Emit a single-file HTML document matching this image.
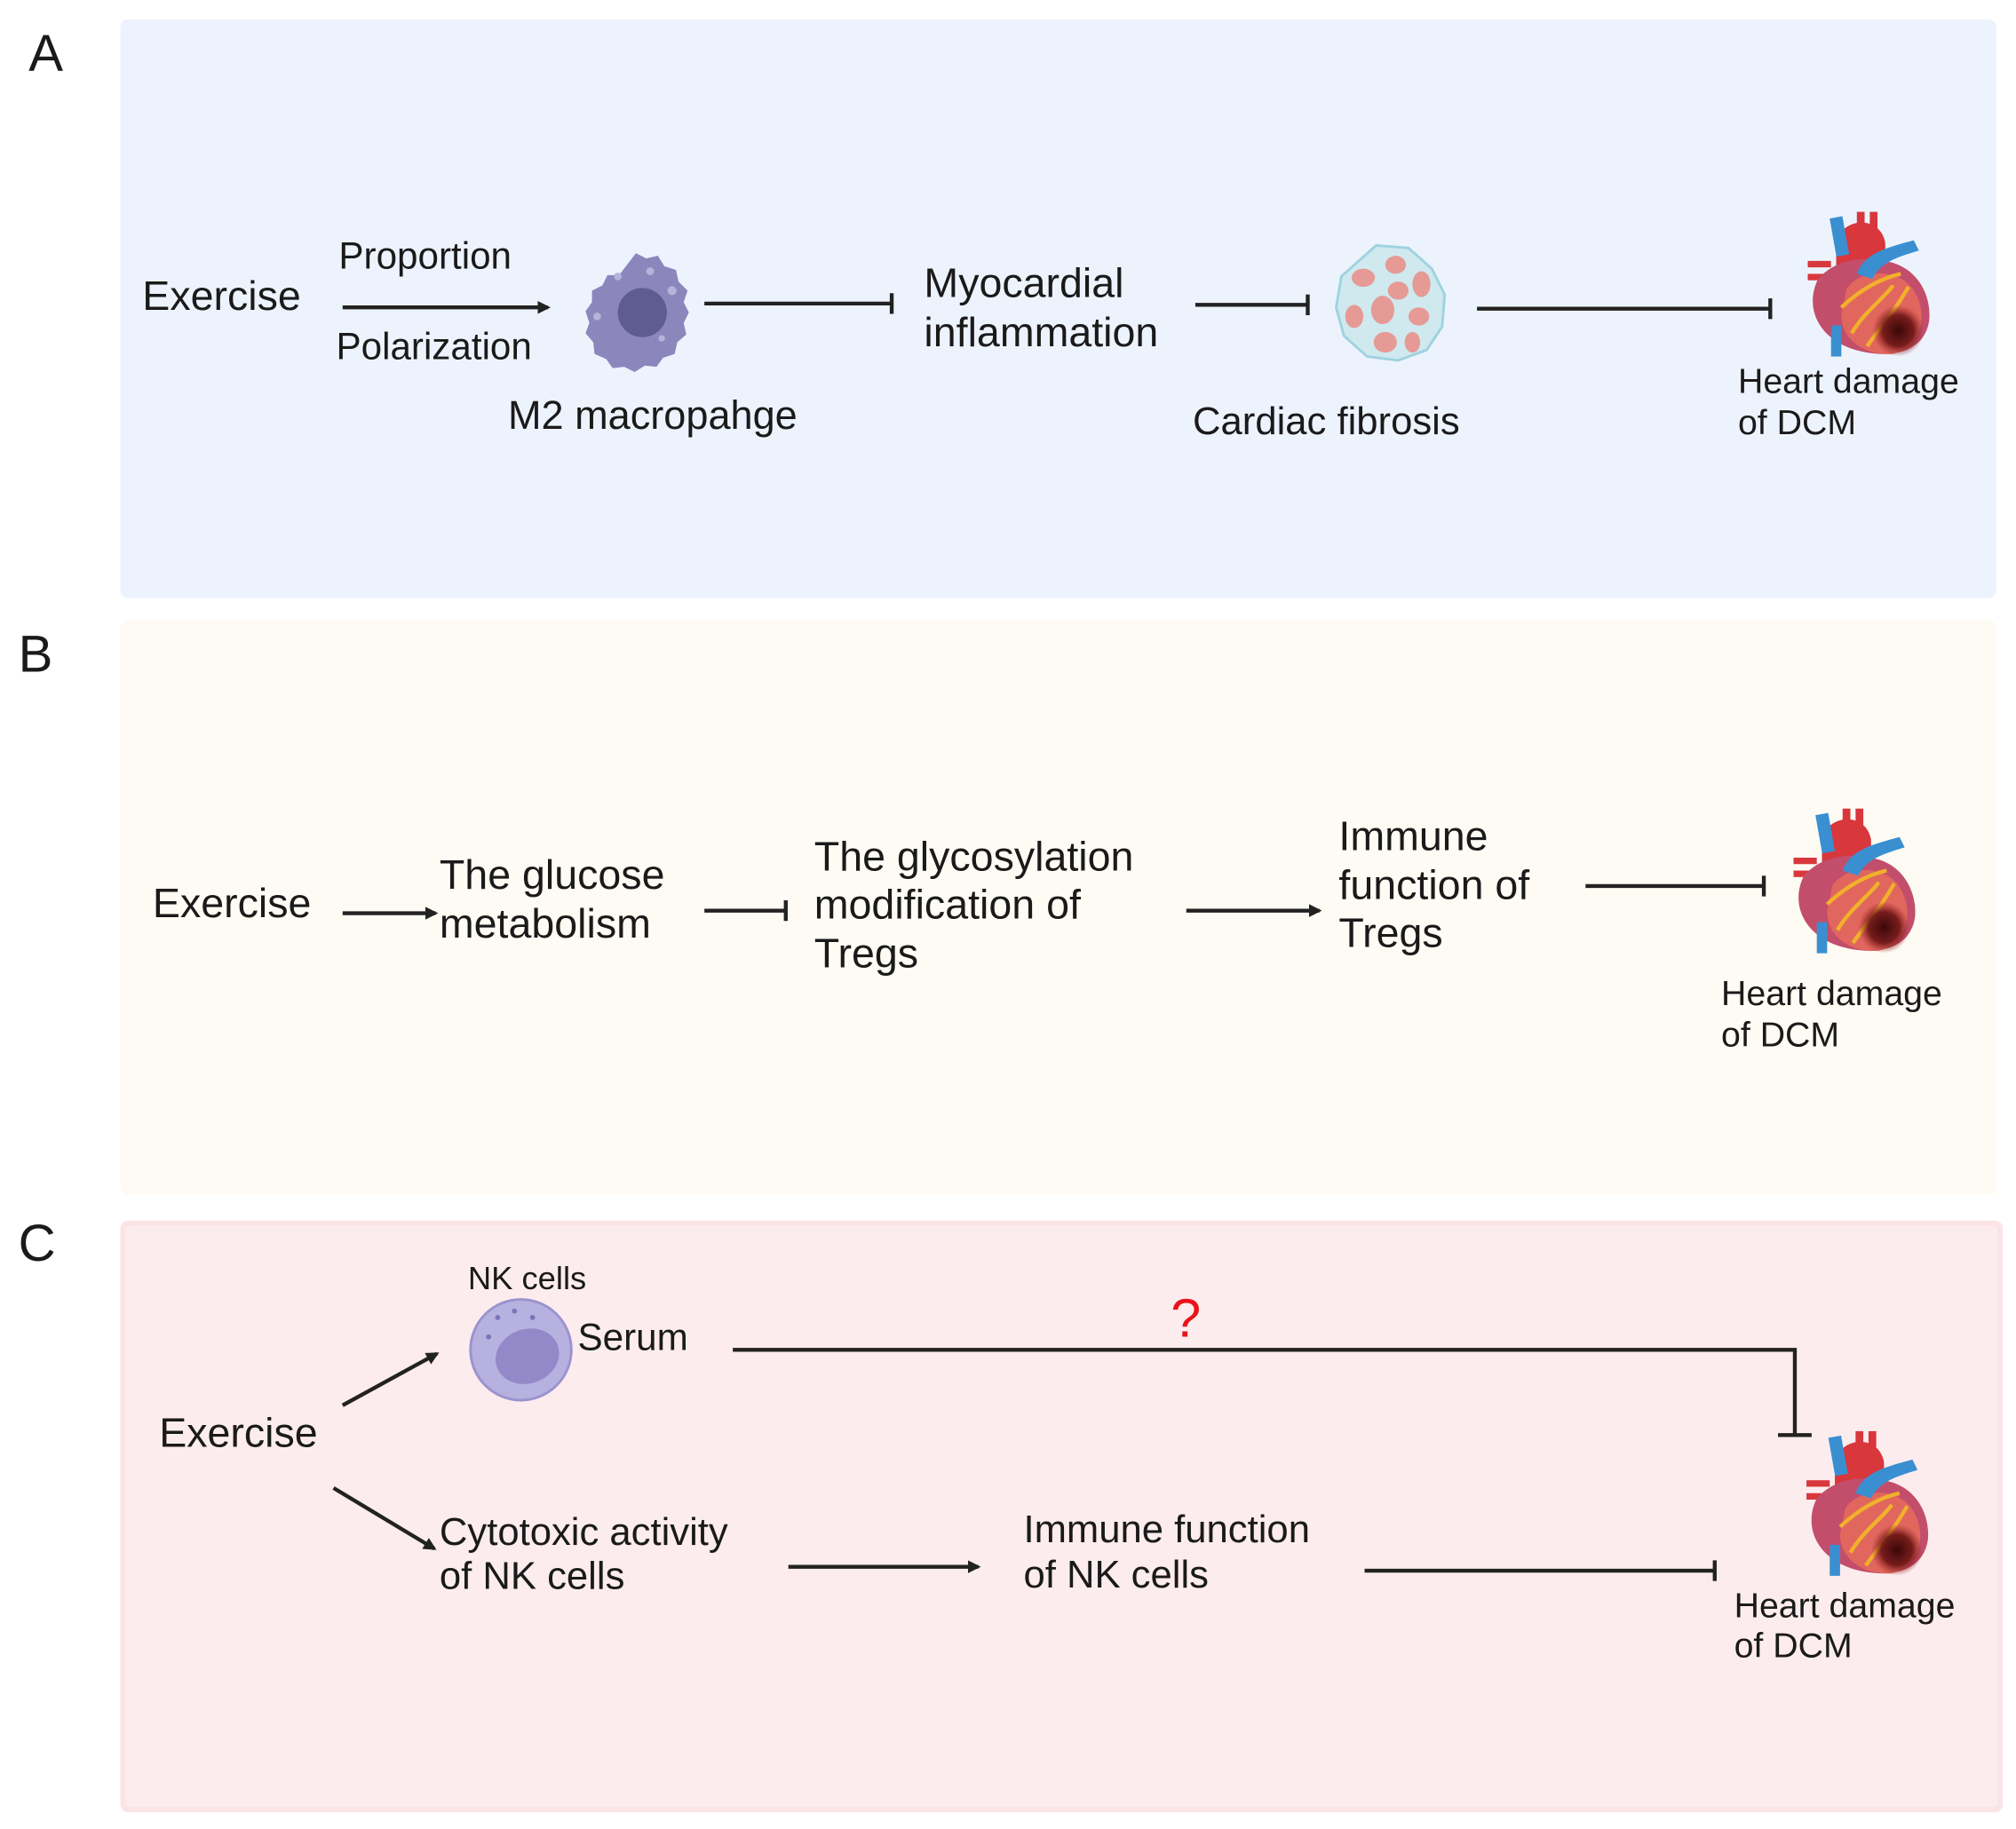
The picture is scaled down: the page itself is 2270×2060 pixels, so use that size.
<!DOCTYPE html>
<html><head><meta charset="utf-8"><style>
html,body{margin:0;padding:0;background:#fff}
svg{display:block}
text{font-family:"Liberation Sans",sans-serif;fill:#1a1a1a}
</style></head><body>
<svg width="2270" height="2060" viewBox="0 0 1560 1416" xmlns="http://www.w3.org/2000/svg">
<defs>
<marker id="ar" markerWidth="10" markerHeight="10" refX="8" refY="5" orient="auto" markerUnits="userSpaceOnUse">
<path d="M0,0 L10,5 L0,10 Z" fill="#222"/></marker>
<radialGradient id="dk" cx="0.5" cy="0.5" r="0.5"><stop offset="0" stop-color="#3a0808"/><stop offset="0.6" stop-color="#6a1414" stop-opacity="0.9"/><stop offset="1" stop-color="#a02828" stop-opacity="0"/></radialGradient>
<g id="heart">
<path d="M-22,-38 C-18,-58 12,-60 16,-38 L16,-18 L-22,-18 Z" fill="#d8373c"/>
<rect x="-6" y="-62" width="6" height="26" fill="#d8373c"/>
<rect x="4" y="-62" width="6" height="28" fill="#d8373c"/>
<rect x="-44" y="-24" width="18" height="5" fill="#d8373c"/>
<rect x="-44" y="-14" width="18" height="5" fill="#d8373c"/>
<path d="M-36,-10 C-46,10 -38,34 -10,44 C14,52 46,50 50,22 C52,0 38,-22 14,-24 C-4,-28 -24,-24 -36,-10 Z" fill="#c24e6b"/>
<path d="M-14,-2 C-6,-16 22,-20 36,-4 C50,14 46,42 22,48 C2,50 -18,38 -18,18 Z" fill="#e1675e"/>
<path d="M-18,12 C-5,0 10,-10 28,-14 M-10,32 C0,15 15,5 22,-5 M2,42 C10,30 20,20 34,-4" stroke="#f1b12a" stroke-width="3" fill="none"/>
<circle cx="26" cy="30" r="20" fill="url(#dk)"/>
<rect x="-24" y="-58" width="10" height="30" fill="#3a8fd1" transform="rotate(-10 -19 -40)"/>
<rect x="-26" y="26" width="8" height="24" fill="#3a8fd1"/>
<path d="M-6,-14 C0,-30 16,-34 38,-40 L42,-32 C22,-26 12,-22 6,-10 Z" fill="#3a8fd1"/>
</g>
</defs>

<rect x="93" y="15" width="1452" height="448" rx="6" fill="#edf3fc"/>
<rect x="93" y="480" width="1452" height="445" rx="6" fill="#fdfbf3"/>
<rect x="93" y="945" width="1457" height="458" rx="6" fill="#fbe4e8"/>
<rect x="97" y="949" width="1449" height="450" rx="4" fill="#fdecee"/>

<text x="22" y="55" font-size="40">A</text>
<text x="14" y="520" font-size="40">B</text>
<text x="14" y="976" font-size="40">C</text>

<text x="110" y="240" font-size="32">Exercise</text>
<text x="262" y="208" font-size="29">Proportion</text>
<text x="260" y="278" font-size="29">Polarization</text>
<line x1="265" y1="238" x2="424" y2="238" stroke="#222" stroke-width="3" marker-end="url(#ar)"/>
<path d="M492,196 l8,4 9,-2 5,8 9,3 2,9 7,7 -3,9 4,8 -4,8 2,9 -7,6 -2,9 -9,3 -5,7 -9,-1 -8,5 -8,-4 -9,1 -5,-7 -9,-4 -1,-9 -6,-7 3,-8 -3,-9 5,-7 0,-9 8,-4 4,-8 9,0 Z" fill="#8b87bd"/>
<circle cx="497" cy="242" r="19" fill="#5f5c91"/>
<circle cx="503" cy="210" r="3" fill="#b5b3d8"/><circle cx="478" cy="214" r="3" fill="#b5b3d8"/><circle cx="520" cy="225" r="3.5" fill="#b5b3d8"/><circle cx="462" cy="245" r="3" fill="#b5b3d8"/><circle cx="512" cy="262" r="2.5" fill="#b5b3d8"/>
<text x="393" y="332" font-size="31">M2 macropahge</text>
<line x1="545" y1="235" x2="690" y2="235" stroke="#222" stroke-width="3"/>
<line x1="690" y1="227" x2="690" y2="243" stroke="#222" stroke-width="3"/>
<text x="715" y="230" font-size="32">Myocardial</text>
<text x="715" y="268" font-size="32">inflammation</text>
<line x1="925" y1="236" x2="1012" y2="236" stroke="#222" stroke-width="3"/>
<line x1="1012" y1="228" x2="1012" y2="244" stroke="#222" stroke-width="3"/>
<path d="M1065,190 l25,2 18,16 10,20 -2,25 -12,18 -22,8 -24,-3 -18,-16 -6,-22 4,-24 Z" fill="#cfe9ef" stroke="#9ed3e0" stroke-width="2"/>
<g fill="#e69a96"><ellipse cx="1055" cy="215" rx="9" ry="7"/><ellipse cx="1080" cy="205" rx="8" ry="7"/><ellipse cx="1100" cy="220" rx="7" ry="10"/><ellipse cx="1070" cy="240" rx="9" ry="11"/><ellipse cx="1048" cy="245" rx="7" ry="9"/><ellipse cx="1098" cy="245" rx="8" ry="7"/><ellipse cx="1072" cy="265" rx="9" ry="8"/><ellipse cx="1093" cy="265" rx="6" ry="8"/><ellipse cx="1082" cy="225" rx="8" ry="7"/></g>
<text x="923" y="336" font-size="30">Cardiac fibrosis</text>
<line x1="1143" y1="239" x2="1370" y2="239" stroke="#222" stroke-width="3"/>
<line x1="1370" y1="231" x2="1370" y2="247" stroke="#222" stroke-width="3"/>
<use href="#heart" transform="translate(1443,226)"/>
<text x="1345" y="304" font-size="27">Heart damage</text>
<text x="1345" y="336" font-size="27">of DCM</text>

<text x="118" y="710" font-size="32">Exercise</text>
<line x1="265" y1="707" x2="337" y2="707" stroke="#222" stroke-width="3" marker-end="url(#ar)"/>
<text x="340" y="688" font-size="32">The glucose</text>
<text x="340" y="726" font-size="32">metabolism</text>
<line x1="545" y1="705" x2="608" y2="705" stroke="#222" stroke-width="3"/>
<line x1="608" y1="697" x2="608" y2="713" stroke="#222" stroke-width="3"/>
<text x="630" y="674" font-size="32">The glycosylation</text>
<text x="630" y="711" font-size="32">modification of</text>
<text x="630" y="749" font-size="32">Tregs</text>
<line x1="918" y1="705" x2="1021" y2="705" stroke="#222" stroke-width="3" marker-end="url(#ar)"/>
<text x="1036" y="658" font-size="32">Immune</text>
<text x="1036" y="696" font-size="32">function of</text>
<text x="1036" y="733" font-size="32">Tregs</text>
<line x1="1227" y1="686" x2="1365" y2="686" stroke="#222" stroke-width="3"/>
<line x1="1365" y1="678" x2="1365" y2="694" stroke="#222" stroke-width="3"/>
<use href="#heart" transform="translate(1432,688)"/>
<text x="1332" y="778" font-size="27">Heart damage</text>
<text x="1332" y="810" font-size="27">of DCM</text>

<text x="362" y="998" font-size="25">NK cells</text>
<circle cx="403" cy="1045" r="39" fill="#b7b1e0" stroke="#9a93cf" stroke-width="2"/>
<ellipse cx="408" cy="1050" rx="25" ry="21" fill="#9389c8" transform="rotate(-20 408 1050)"/>
<circle cx="385" cy="1020" r="2" fill="#7d74b8"/><circle cx="398" cy="1015" r="2" fill="#7d74b8"/><circle cx="412" cy="1020" r="2" fill="#7d74b8"/><circle cx="378" cy="1035" r="2" fill="#7d74b8"/>
<text x="447" y="1045" font-size="29">Serum</text>
<line x1="265" y1="1088" x2="338" y2="1048" stroke="#222" stroke-width="3" marker-end="url(#ar)"/>
<text x="123" y="1120" font-size="32">Exercise</text>
<line x1="258" y1="1152" x2="336" y2="1199" stroke="#222" stroke-width="3" marker-end="url(#ar)"/>
<text x="340" y="1196" font-size="30">Cytotoxic activity</text>
<text x="340" y="1230" font-size="30">of NK cells</text>
<line x1="610" y1="1213" x2="757" y2="1213" stroke="#222" stroke-width="3" marker-end="url(#ar)"/>
<text x="792" y="1194" font-size="30">Immune function</text>
<text x="792" y="1229" font-size="30">of NK cells</text>
<line x1="1056" y1="1216" x2="1327" y2="1216" stroke="#222" stroke-width="3"/>
<line x1="1327" y1="1208" x2="1327" y2="1224" stroke="#222" stroke-width="3"/>
<polyline points="567,1045 1389,1045 1389,1111" fill="none" stroke="#222" stroke-width="3"/>
<line x1="1376" y1="1111" x2="1402" y2="1111" stroke="#222" stroke-width="3"/>
<text x="906" y="1035" font-size="42" style="fill:#e8141a">?</text>
<use href="#heart" transform="translate(1442,1170)"/>
<text x="1342" y="1252" font-size="27">Heart damage</text>
<text x="1342" y="1283" font-size="27">of DCM</text>
</svg>
</body></html>
